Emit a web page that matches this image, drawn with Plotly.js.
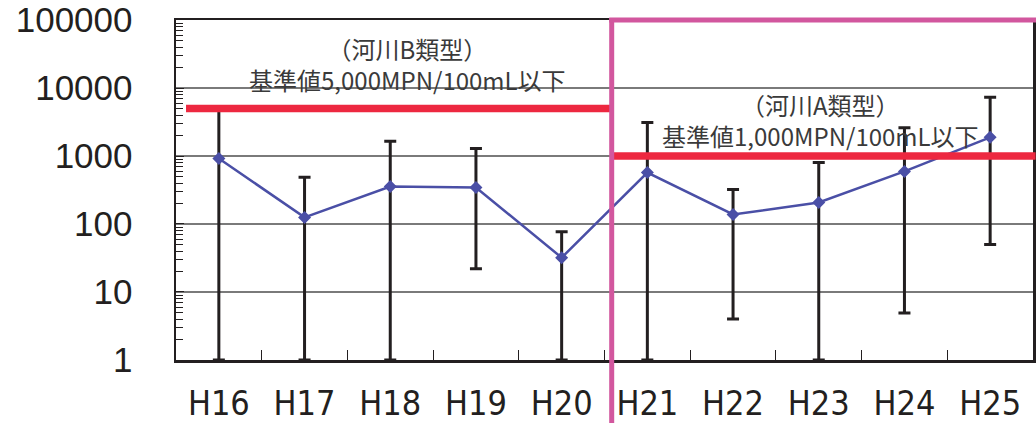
<!DOCTYPE html>
<html>
<head>
<meta charset="utf-8">
<script src="https://cdn.plot.ly/plotly-3.0.1.min.js"></script>
<style>
  html, body { margin: 0; padding: 0; background: #fff; }
  #chart { width: 1036px; height: 423px; }
</style>
</head>
<body>
<div id="chart"></div>
<script>
// Fiscal years (Heisei)
const years = ['H16', 'H17', 'H18', 'H19', 'H20', 'H21', 'H22', 'H23', 'H24', 'H25'];
// Mean coliform count (MPN/100mL)
const meanValues = [920, 125, 355, 345, 32, 570, 138, 207, 593, 1880];
// Annual maximum and minimum
const maxValues = [5000, 485, 1650, 1290, 77, 3100, 322, 800, 2600, 7300];
const minValues = [1, 1, 1, 22, 1, 1, 4, 1, 4.9, 50];

// Environmental standards
const standardB = 5000;   // river class B
const standardA = 1000;   // river class A

const yTickVals = [1, 10, 100, 1000, 10000, 100000];
const yTickText = ['1', '10', '100', '1000', '10000', '100000'];

const errPlus = maxValues.map((v, i) => v - meanValues[i]);
const errMinus = meanValues.map((v, i) => v - minValues[i]);

const ink = '#231f20';
const noteFont = { family: '"Noto Sans CJK JP", sans-serif', size: 24, color: '#3a3a3a' };

const trace = {
  x: years,
  y: meanValues,
  type: 'scatter',
  mode: 'lines+markers',
  line: { color: '#4a4fa6', width: 2.5 },
  marker: { symbol: 'diamond', size: 10, color: '#4a4fa6' },
  error_y: {
    type: 'data',
    symmetric: false,
    array: errPlus,
    arrayminus: errMinus,
    color: ink,
    thickness: 3,
    width: 6
  },
  hoverinfo: 'x+y'
};

const layout = {
  width: 1036,
  height: 423,
  margin: { l: 176, r: 3, t: 20, b: 63 },
  paper_bgcolor: '#fff',
  plot_bgcolor: '#fff',
  showlegend: false,
  xaxis: {
    type: 'category',
    range: [-0.5, 9.5],
    showgrid: false,
    showline: true,
    mirror: true,
    linecolor: ink,
    linewidth: 2.5,
    ticks: 'inside',
    tickson: 'boundaries',
    ticklen: 10,
    tickwidth: 1,
    tickcolor: ink,
    ticklabelstandoff: 12,
    tickfont: { family: '"Liberation Sans Narrow", "DejaVu Sans Condensed", Arial, sans-serif', size: 34, color: ink },
    fixedrange: true
  },
  yaxis: {
    type: 'log',
    range: [-0.0005, 5.0005],
    tickvals: yTickVals,
    ticktext: yTickText,
    showgrid: true,
    gridcolor: '#7a7a7a',
    gridwidth: 1.2,
    showline: true,
    mirror: true,
    linecolor: ink,
    linewidth: 2.5,
    ticks: 'inside',
    ticklen: 8,
    tickwidth: 1,
    tickcolor: ink,
    ticklabelstandoff: 34,
    minor: { dtick: 'D1', ticks: 'inside', ticklen: 7, tickwidth: 1, tickcolor: ink, showgrid: false },
    tickfont: { family: '"Liberation Sans", Arial, sans-serif', size: 35, color: ink },
    zeroline: false,
    fixedrange: true
  },
  shapes: [
    // class B standard line
    { type: 'line', layer: 'above', xref: 'paper', yref: 'y', x0: 0.0117, x1: 0.5087, y0: standardB, y1: standardB,
      line: { color: '#ed2840', width: 7.5 } },
    // class A standard line
    { type: 'line', layer: 'above', xref: 'paper', yref: 'y', x0: 0.5087, x1: 1.003, y0: standardA, y1: standardA,
      line: { color: '#ed2840', width: 7.5 } },
    // class A period frame
    { type: 'line', layer: 'above', xref: 'paper', yref: 'paper', x0: 0.5084, x1: 0.5084, y0: 1.006, y1: -0.25,
      line: { color: '#d2579e', width: 5 } },
    { type: 'line', layer: 'above', xref: 'paper', yref: 'paper', x0: 0.5055, x1: 1.01, y0: 1.0, y1: 1.0,
      line: { color: '#d2579e', width: 5 } }
  ],
  annotations: [
    { xref: 'paper', yref: 'paper', x: 0.2707, y: 0.871, xanchor: 'center', yanchor: 'middle',
      text: '（河川B類型）<br>基準値5,000MPN/100mL以下', showarrow: false, font: noteFont },
    { xref: 'paper', yref: 'paper', x: 0.7515, y: 0.706, xanchor: 'center', yanchor: 'middle',
      text: '（河川A類型）<br>基準値1,000MPN/100mL以下', showarrow: false, font: noteFont }
  ]
};

Plotly.newPlot('chart', [trace], layout, { staticPlot: true, displayModeBar: false });
</script>
</body>
</html>
